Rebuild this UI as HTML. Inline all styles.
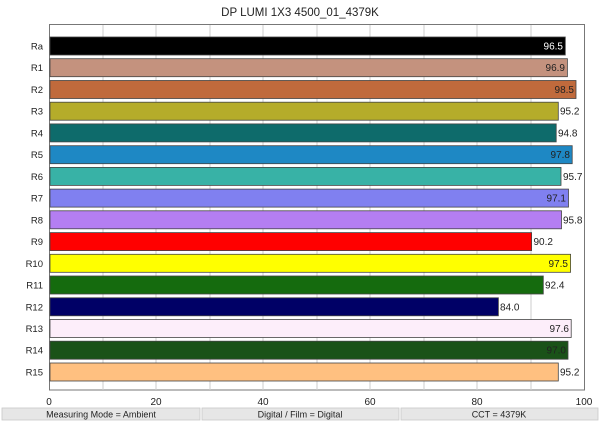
<!DOCTYPE html>
<html><head><meta charset="utf-8"><style>
html,body{margin:0;padding:0;background:#fff;}
svg{display:block;font-family:"Liberation Sans",sans-serif;}
</style></head><body>
<svg width="600" height="422" viewBox="0 0 600 422" xmlns="http://www.w3.org/2000/svg">
<rect width="600" height="422" fill="#fff"/>
<text x="300" y="16" font-size="11.5" text-anchor="middle" fill="#222">DP LUMI 1X3 4500_01_4379K</text>
<rect x="49.5" y="24.5" width="535" height="365.5" fill="#fff" stroke="#777" stroke-width="1"/>
<g stroke="#ccc" stroke-width="1">
<line x1="103" y1="25" x2="103" y2="390"/><line x1="156" y1="25" x2="156" y2="390"/>
<line x1="210" y1="25" x2="210" y2="390"/><line x1="263" y1="25" x2="263" y2="390"/>
<line x1="317" y1="25" x2="317" y2="390"/><line x1="370" y1="25" x2="370" y2="390"/>
<line x1="424" y1="25" x2="424" y2="390"/><line x1="477" y1="25" x2="477" y2="390"/>
<line x1="531" y1="25" x2="531" y2="390"/>
</g>
<g stroke="#444" stroke-width="0.8">
<rect x="50" y="37" width="515.3" height="18" fill="#000"/>
<rect x="50" y="58.7" width="517.4" height="18" fill="#c4927e"/>
<rect x="50" y="80.5" width="526" height="18" fill="#c06a3c"/>
<rect x="50" y="102.2" width="508.3" height="18" fill="#b5ac2a"/>
<rect x="50" y="123.9" width="506.2" height="18" fill="#0e6b6b"/>
<rect x="50" y="145.7" width="522.2" height="18" fill="#1e88c4"/>
<rect x="50" y="167.4" width="511" height="18" fill="#38b2a6"/>
<rect x="50" y="189.1" width="518.5" height="18" fill="#8080f0"/>
<rect x="50" y="210.8" width="511.5" height="18" fill="#b47ef2"/>
<rect x="50" y="232.6" width="481.6" height="18" fill="#ff0000"/>
<rect x="50" y="254.3" width="520.6" height="18" fill="#ffff00"/>
<rect x="50" y="276" width="493.3" height="18" fill="#156b0e"/>
<rect x="50" y="297.8" width="448.4" height="18" fill="#000066"/>
<rect x="50" y="319.5" width="521.2" height="18" fill="#fdeefa"/>
<rect x="50" y="341.2" width="518" height="18" fill="#1a5218"/>
<rect x="50" y="363" width="508.3" height="18" fill="#ffc080"/>
</g>
<g font-size="9.5" fill="#222" text-anchor="end">
<text x="43" y="49.5">Ra</text><text x="43" y="71.2">R1</text><text x="43" y="93">R2</text>
<text x="43" y="114.7">R3</text><text x="43" y="136.4">R4</text><text x="43" y="158.2">R5</text>
<text x="43" y="179.9">R6</text><text x="43" y="201.6">R7</text><text x="43" y="223.3">R8</text>
<text x="43" y="245.1">R9</text><text x="43" y="266.8">R10</text><text x="43" y="288.5">R11</text>
<text x="43" y="310.3">R12</text><text x="43" y="332">R13</text><text x="43" y="353.7">R14</text>
<text x="43" y="375.5">R15</text>
</g>
<g font-size="10" fill="#222">
<text x="563" y="49.5" text-anchor="end" fill="#fff">96.5</text>
<text x="565" y="71.2" text-anchor="end">96.9</text>
<text x="574" y="93" text-anchor="end">98.5</text>
<text x="560" y="114.7">95.2</text>
<text x="558" y="136.4">94.8</text>
<text x="570" y="158.2" text-anchor="end">97.8</text>
<text x="563" y="179.9">95.7</text>
<text x="566" y="201.6" text-anchor="end">97.1</text>
<text x="563" y="223.3">95.8</text>
<text x="533.5" y="245.1">90.2</text>
<text x="568" y="266.8" text-anchor="end">97.5</text>
<text x="545" y="288.5">92.4</text>
<text x="500" y="310.3">84.0</text>
<text x="569" y="332" text-anchor="end">97.6</text>
<text x="566" y="353.7" text-anchor="end">97.0</text>
<text x="560" y="375.5">95.2</text>
</g>
<g font-size="10" fill="#222" text-anchor="middle">
<text x="49" y="405">0</text><text x="156" y="405">20</text><text x="263" y="405">40</text>
<text x="370" y="405">60</text><text x="477" y="405">80</text><text x="584" y="405">100</text>
</g>
<g fill="#e6e6e6" stroke="#c8c8c8" stroke-width="0.8">
<rect x="2" y="408" width="198" height="12"/>
<rect x="202" y="408" width="197" height="12"/>
<rect x="401" y="408" width="197" height="12"/>
</g>
<g font-size="9" fill="#222" text-anchor="middle">
<text x="101" y="417.5">Measuring Mode = Ambient</text>
<text x="300" y="417.5">Digital / Film = Digital</text>
<text x="499" y="417.5">CCT = 4379K</text>
</g>
</svg>
</body></html>
